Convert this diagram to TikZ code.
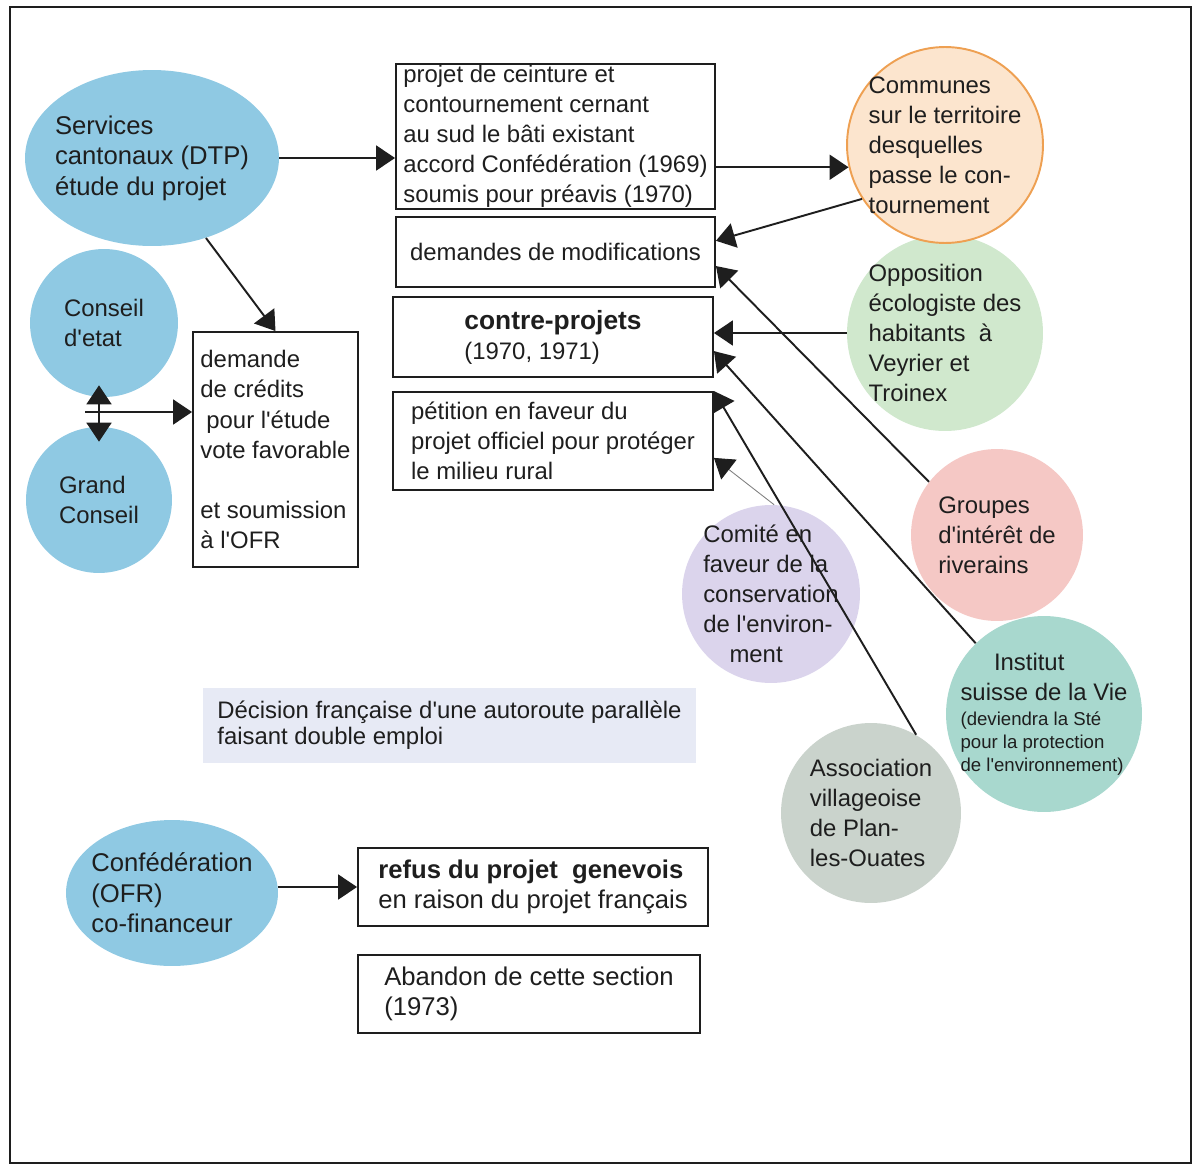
\documentclass[tikz,border=0pt]{standalone}
\usepackage{fontspec}
\setmainfont{Liberation Sans}[Ligatures=TeXOff]
\usetikzlibrary{arrows.meta,shapes.geometric}

\definecolor{encre}{RGB}{30,30,30}
\definecolor{bleucanton}{RGB}{143,201,227}
\definecolor{bordcommunes}{RGB}{238,160,82}
\definecolor{fondcommunes}{RGB}{252,229,206}
\definecolor{fondopposition}{RGB}{208,232,205}
\definecolor{fondriverains}{RGB}{245,200,197}
\definecolor{fondcomite}{RGB}{219,212,236}
\definecolor{fondinstitut}{RGB}{168,216,206}
\definecolor{fondassociation}{RGB}{202,211,204}
\definecolor{fonddecision}{RGB}{231,234,245}

\newcommand{\petit}{\fontsize{10.6}{12.5}\selectfont}

\begin{document}
\begin{tikzpicture}[x=0.02cm, y=-0.02cm,
   every node/.style={text=encre, font=\fontsize{13.6}{17.1}\selectfont},
   grandtexte/.style={font=\fontsize{14.6}{17.4}\selectfont},
   bulle/.style={circle, align=left, inner sep=-1cm},
   boite/.style={draw=encre, line width=1.1pt, align=left, inner xsep=3pt, inner ysep=0pt},
   >={Triangle[length=0.38cm, width=0.5cm, color=encre]},
   fleche/.style={->, draw=encre, line width=1.1pt}]
   \useasboundingbox (0,0) rectangle (1193,1166);
   \draw[encre, line width=1.1pt] (10,7) rectangle (1191,1163);

   % acteurs
   \node[ellipse, fill=bleucanton, minimum width=5.08cm, minimum height=3.52cm, align=left, inner sep=-1cm, grandtexte] (services) at (152,158) {Services\\cantonaux (DTP)\\étude du projet};
   \node[bulle, fill=bleucanton, minimum size=2.96cm] (conseil) at (104,323) {Conseil\\d'etat};
   \node[bulle, fill=bleucanton, minimum size=2.92cm] (grand) at (99,500) {Grand\\Conseil};
   \node[ellipse, fill=bleucanton, minimum width=4.24cm, minimum height=2.92cm, align=left, inner sep=-1cm, grandtexte] (confed) at (172,893) {Confédération\\(OFR)\\co-financeur};

   \node[bulle, fill=fondopposition, minimum size=3.92cm] (opposition) at (945,333) {Opposition\\écologiste des\\habitants\ \ à\\Veyrier et\\Troinex};
   \node[bulle, fill=fondcommunes, draw=bordcommunes, line width=1.1pt, minimum size=3.92cm] (communes) at (945,145) {Communes\\sur le territoire\\desquelles\\passe le con-\\tournement};
   \node[bulle, fill=fondriverains, minimum size=3.44cm] (groupes) at (997,535) {Groupes\\d'intérêt de\\riverains};
   \node[bulle, fill=fondcomite, minimum size=3.56cm] (comite) at (771,594) {Comité en\\faveur de la\\conservation\\de l'environ-\\\hspace*{1.1em}ment};
   \node[bulle, fill=fondinstitut, minimum size=3.92cm] (institut) at (1044,714) {\hspace*{1.4em}Institut\\suisse de la Vie\\[-0.1cm]{\petit (deviendra la Sté}\\[-0.14cm]{\petit pour la protection}\\[-0.14cm]{\petit de l'environnement)}};
   \node[bulle, fill=fondassociation, minimum size=3.6cm] (association) at (871,813) {Association\\villageoise\\de Plan-\\les-Ouates};

   % etapes
   \node[boite, minimum width=6.38cm, minimum height=2.9cm] (projet) at (555.5,136.5) {projet de ceinture et\\contournement cernant\\au sud le bâti existant\\accord Confédération (1969)\\soumis pour préavis (1970)};
   \node[boite, minimum width=6.38cm, minimum height=1.4cm] (demandes) at (555.5,252) {demandes de modifications};
   \node[boite, minimum width=6.4cm, minimum height=1.6cm] (contre) at (553,337) {{\fontsize{15}{17.1}\selectfont\bfseries contre-projets}\\(1970, 1971)};
   \node[boite, minimum width=6.4cm, minimum height=1.96cm] (petition) at (553,441) {pétition en faveur du\\projet officiel pour protéger\\le milieu rural};
   \node[boite, minimum width=3.3cm, minimum height=4.7cm] (credits) at (275.5,449.5) {demande\\de crédits\\\hspace*{0.25em}pour l'étude\\vote favorable\\[0.6cm]et soumission\\à l'OFR};
   \node[fill=fonddecision, minimum width=9.86cm, minimum height=1.5cm, align=left, inner sep=0pt] (decision) at (449.5,725.5) {Décision française d'une autoroute parallèle\\[-0.08cm]faisant double emploi};
   \node[boite, minimum width=7cm, minimum height=1.56cm, grandtexte] (refus) at (533,887) {\textbf{refus du projet\ \ genevois}\\en raison du projet français};
   \node[boite, minimum width=6.84cm, minimum height=1.56cm, grandtexte] (abandon) at (529,994) {Abandon de cette section\\(1973)};

   % fleches
   \draw[fleche] (services.east) -- (services.east -| projet.west);
   \draw[fleche] (projet.east |- communes.193) -- (communes.193);
   \draw[fleche] (communes.213) -- (demandes.4);
   \draw[fleche] (groupes.142) -- (demandes.-5);
   \draw[fleche] (opposition.180) -- (opposition.180 -| contre.east);
   \draw[fleche] (institut.134) -- (contre.-5);
   \draw[fleche] (association.60) -- (petition.north east);
   \draw[fleche, draw=gray, line width=0.5pt] (comite.88) -- (petition.-6);
   \draw[fleche] (services.-56) -- (credits.north);
   \draw[fleche, <->, shorten <=-0.24cm, shorten >=-0.3cm] (conseil.south -| grand.north) -- (grand.north);
   \coordinate (vote) at (85,412);
   \draw[fleche] (vote) -- (vote -| credits.west);
   \draw[fleche] (confed.east |- refus.west) -- (refus.west);
\end{tikzpicture}
\end{document}
